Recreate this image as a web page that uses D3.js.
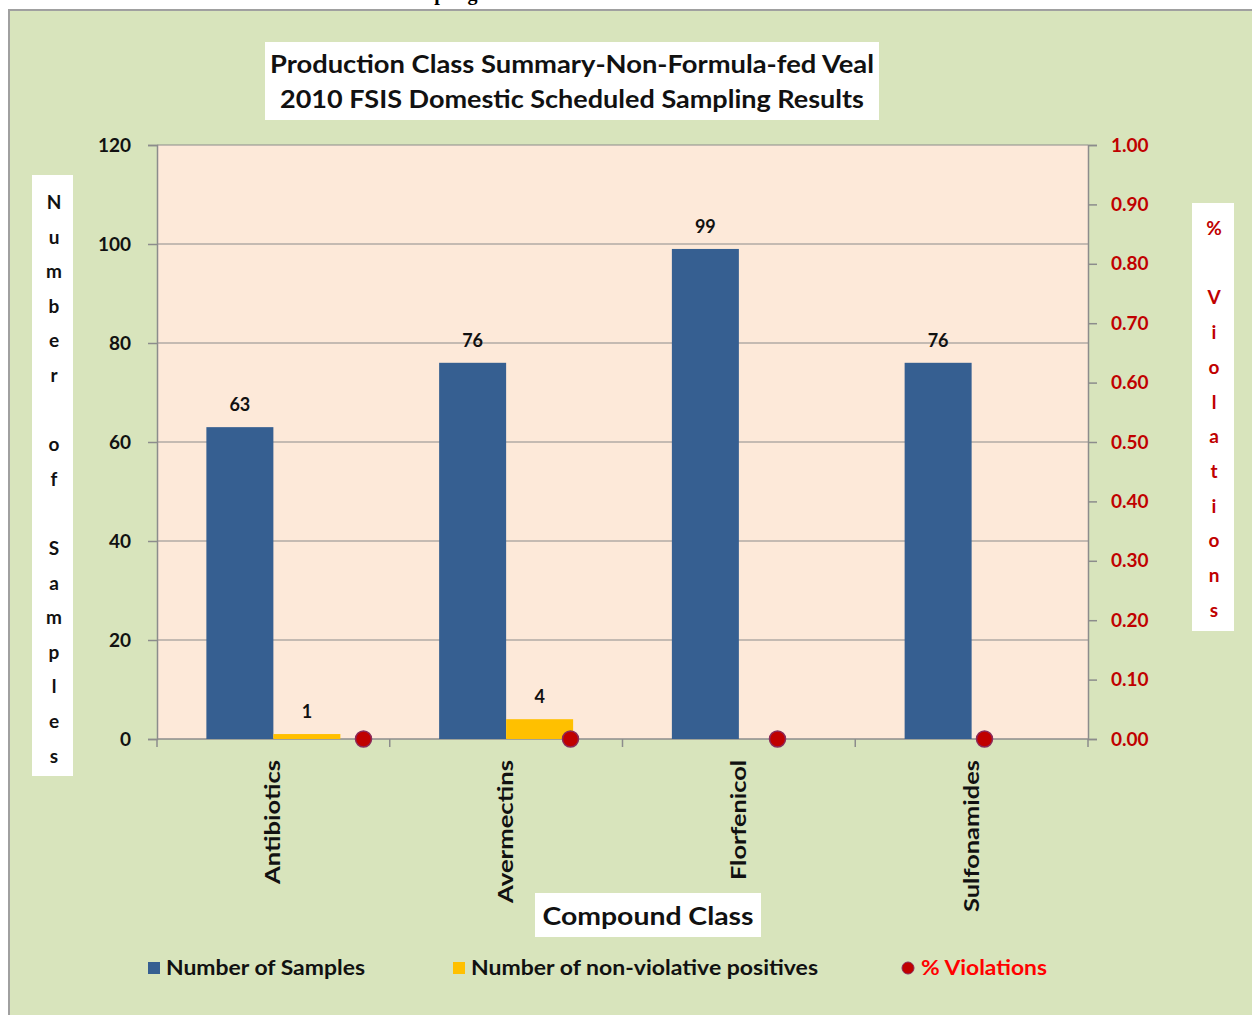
<!DOCTYPE html>
<html>
<head>
<meta charset="utf-8">
<script src="https://cdn.jsdelivr.net/npm/d3@7/dist/d3.min.js"></script>
<style>
  html, body { margin: 0; padding: 0; background: #ffffff; }
  svg { display: block; }
  text { font-family: Lato, "Open Sans", "DejaVu Sans", sans-serif; font-weight: 700; }
</style>
</head>
<body>
<svg id="chart" width="1252" height="1015"></svg>
<script>
// Compound classes on the category axis
const categories = ["Antibiotics", "Avermectins", "Florfenicol", "Sulfonamides"];
// Number of samples per compound class
const samples = [63, 76, 99, 76];
// Number of non-violative positives per compound class
const positives = [1, 4, 0, 0];
// Percent violations per compound class (secondary axis)
const violations = [0, 0, 0, 0];
// Tick values
const leftTicks = [0, 20, 40, 60, 80, 100, 120];
const rightTicks = [0, 0.1, 0.2, 0.3, 0.4, 0.5, 0.6, 0.7, 0.8, 0.9, 1.0];
const titleLines = ["Production Class Summary-Non-Formula-fed Veal", "2010 FSIS Domestic Scheduled Sampling Results"];
const leftTitle = "Number of Samples";
const rightTitle = "% Violations";
const xTitle = "Compound Class";
const seriesNames = ["Number of Samples", "Number of non-violative positives", "% Violations"];

const svg = d3.select("#chart");
const W = 1252, H = 1015;

const blue = "#365f91", yellow = "#ffc000", red = "#c00000", grid = "#8c8c8c";

// Caption of the surrounding document, mostly clipped above the frame
svg.append("text")
  .attr("x", 22).attr("y", 0)
  .attr("textLength", 523).attr("lengthAdjust", "spacingAndGlyphs")
  .style("font-family", "'Liberation Serif', 'DejaVu Serif', serif")
  .style("font-size", "20px").attr("fill", "#000")
  .text("Non-Formula-fed Veal Domestic Scheduled Sampling Results");

// Chart frame
svg.append("rect").attr("x", 9).attr("y", 10).attr("width", W).attr("height", H)
  .attr("fill", "#d8e4bc").attr("stroke", "#a0a0a0").attr("stroke-width", 2);

// Plot area
const plot = { left: 157, right: 1088, top: 145, bottom: 739 };
const y = d3.scaleLinear().domain([0, 120]).range([plot.bottom, plot.top]);
const y2 = d3.scaleLinear().domain([0, 1]).range([plot.bottom, plot.top]);
const x = d3.scaleBand().domain(categories).range([plot.left, plot.right]);
const sub = d3.scaleBand().domain(["samples", "positives"]).range([0, x.bandwidth()]).paddingOuter(0.737);
const x2 = d3.scalePoint().domain(categories).range([260, plot.right]).padding(0.5);

svg.append("rect").attr("x", plot.left).attr("y", plot.top)
  .attr("width", plot.right - plot.left).attr("height", plot.bottom - plot.top)
  .attr("fill", "#fde9d9");

// Gridlines
svg.append("g").selectAll("line").data(leftTicks.filter(d => d > 0)).join("line")
  .attr("x1", plot.left).attr("x2", plot.right)
  .attr("y1", d => y(d)).attr("y2", d => y(d))
  .attr("stroke", grid).attr("stroke-width", 1.2);

// Left axis
const gl = svg.append("g").attr("transform", `translate(${plot.left},0)`)
  .call(d3.axisLeft(y).tickValues(leftTicks).tickSize(9).tickPadding(17).tickFormat(d3.format("d")));
gl.selectAll("path, line").attr("stroke", grid).attr("stroke-width", 1.5);
gl.selectAll("text").style("font-size", "19px").attr("fill", "#111").style("font-family", "Lato, sans-serif");

// Right axis
const gr = svg.append("g").attr("transform", `translate(${plot.right},0)`)
  .call(d3.axisRight(y2).tickValues(rightTicks).tickSize(9).tickPadding(14).tickFormat(d3.format(".2f")));
gr.selectAll("path, line").attr("stroke", grid).attr("stroke-width", 1.5);
gr.selectAll("text").style("font-size", "19px").attr("fill", red).style("font-family", "Lato, sans-serif");

// Bottom axis with category boundary ticks
const gb = svg.append("g").attr("transform", `translate(0,${plot.bottom})`);
gb.append("line").attr("x1", plot.left).attr("x2", plot.right).attr("stroke", grid).attr("stroke-width", 1.5);
const bounds = categories.map(c => x(c)).concat([x(categories[categories.length - 1]) + x.bandwidth()]);
gb.selectAll("line.tick").data(bounds).join("line").attr("class", "tick")
  .attr("x1", d => d).attr("x2", d => d).attr("y1", 0).attr("y2", 8)
  .attr("stroke", grid).attr("stroke-width", 1.5);

// Category labels (rotated)
const catLen = { "Antibiotics": 124, "Avermectins": 143, "Florfenicol": 120, "Sulfonamides": 152 };
svg.append("g").selectAll("text").data(categories).join("text")
  .attr("transform", d => `translate(${x(d) + x.bandwidth() / 2 + 7},760) rotate(-90)`)
  .attr("text-anchor", "end")
  .attr("textLength", d => catLen[d]).attr("lengthAdjust", "spacingAndGlyphs")
  .style("font-size", "20px").attr("fill", "#111")
  .text(d => d);

// Bars: number of samples
const rows = categories.map((c, i) => ({ c, s: samples[i], p: positives[i], v: violations[i] }));
svg.append("g").selectAll("rect").data(rows).join("rect")
  .attr("x", d => x(d.c) + sub("samples")).attr("width", sub.bandwidth())
  .attr("y", d => y(d.s)).attr("height", d => y(0) - y(d.s))
  .attr("fill", blue);

// Bars: non-violative positives
svg.append("g").selectAll("rect").data(rows).join("rect")
  .attr("x", d => x(d.c) + sub("positives")).attr("width", sub.bandwidth())
  .attr("y", d => y(d.p)).attr("height", d => y(0) - y(d.p))
  .attr("fill", yellow);

// Value labels
svg.append("g").selectAll("text").data(rows).join("text")
  .attr("x", d => x(d.c) + sub("samples") + sub.bandwidth() / 2)
  .attr("y", d => y(d.s) - 16)
  .attr("text-anchor", "middle").style("font-size", "18px").attr("fill", "#111")
  .text(d => d.s);
svg.append("g").selectAll("text").data(rows.filter(d => d.p > 0)).join("text")
  .attr("x", d => x(d.c) + sub("positives") + sub.bandwidth() / 2)
  .attr("y", d => y(d.p) - 16)
  .attr("text-anchor", "middle").style("font-size", "18px").attr("fill", "#111")
  .text(d => d.p);

// % violations markers
svg.append("g").selectAll("circle").data(rows).join("circle")
  .attr("cx", d => x2(d.c)).attr("cy", d => y2(d.v)).attr("r", 8)
  .attr("fill", red).attr("stroke", "#8b2a5a").attr("stroke-width", 1.5);

// Title box
svg.append("rect").attr("x", 265).attr("y", 42).attr("width", 614).attr("height", 78).attr("fill", "#fff");
const titleLen = [604, 584];
svg.append("g").selectAll("text").data(titleLines).join("text")
  .attr("x", 572).attr("y", (d, i) => 73 + i * 35)
  .attr("text-anchor", "middle")
  .attr("textLength", (d, i) => titleLen[i]).attr("lengthAdjust", "spacingAndGlyphs")
  .style("font-size", "25px").attr("fill", "#111")
  .text(d => d);

// Left axis title, one letter per line
svg.append("rect").attr("x", 32).attr("y", 175).attr("width", 41).attr("height", 601).attr("fill", "#fff");
svg.append("g").selectAll("text").data(leftTitle.split("")).join("text")
  .attr("x", 54).attr("y", (d, i) => 209 + i * 34.6)
  .attr("text-anchor", "middle").style("font-size", "19px").attr("fill", "#111")
  .text(d => d);

// Right axis title, one letter per line
svg.append("rect").attr("x", 1192).attr("y", 203).attr("width", 42).attr("height", 428).attr("fill", "#fff");
svg.append("g").selectAll("text").data(rightTitle.split("")).join("text")
  .attr("x", 1214).attr("y", (d, i) => 235 + i * 34.7)
  .attr("text-anchor", "middle").style("font-size", "19px").attr("fill", red)
  .text(d => d);

// X axis title
svg.append("rect").attr("x", 535).attr("y", 893).attr("width", 226).attr("height", 44).attr("fill", "#fff");
svg.append("text").attr("x", 648).attr("y", 925).attr("text-anchor", "middle")
  .attr("textLength", 211).attr("lengthAdjust", "spacingAndGlyphs")
  .style("font-size", "25px").attr("fill", "#111").text(xTitle);

// Legend
const legendX = [148, 453, 908];
const legendLen = [199, 347, 126];
const lg = svg.append("g");
seriesNames.forEach((name, i) => {
  if (i < 2) {
    lg.append("rect").attr("x", legendX[i]).attr("y", 962).attr("width", 12).attr("height", 12)
      .attr("fill", i === 0 ? blue : yellow);
  } else {
    lg.append("circle").attr("cx", legendX[i]).attr("cy", 968).attr("r", 6)
      .attr("fill", red).attr("stroke", "#8b2a5a").attr("stroke-width", 1);
  }
  lg.append("text").attr("x", i < 2 ? legendX[i] + 18 : legendX[i] + 13).attr("y", 975)
    .attr("textLength", legendLen[i]).attr("lengthAdjust", "spacingAndGlyphs")
    .style("font-size", "20px").attr("fill", i === 2 ? "#ff0000" : "#111")
    .text(name);
});
</script>
</body>
</html>
